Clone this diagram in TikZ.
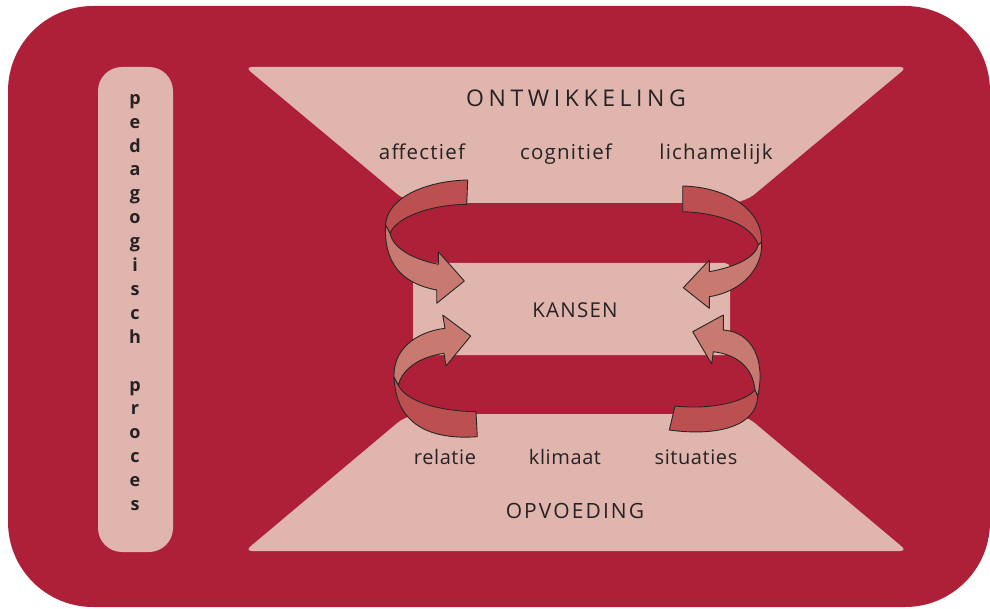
\documentclass[tikz,border=0pt]{standalone}
\usepackage{fontspec}
\setmainfont{Open Sans}
\definecolor{bgred}{HTML}{AE2038}
\definecolor{pinkf}{HTML}{E0B5AD}
\definecolor{arrdark}{HTML}{BC5050}
\definecolor{arrlight}{HTML}{C87A70}
\definecolor{txt}{HTML}{262224}
\begin{document}
\begin{tikzpicture}[x=1pt,y=-1pt,
  pinkshape/.style={fill=pinkf,draw=none},
  backband/.style={fill=arrdark,draw=black!85,line width=0.9pt,line join=round},
  frontband/.style={fill=arrlight,draw=black!85,line width=0.9pt,line join=round},
  lbl/.style={text=txt,inner sep=0pt,anchor=base,font=\fontsize{20.5}{24}\selectfont\addfontfeature{LetterSpace=6}},
  lblb/.style={text=txt,inner sep=0pt,anchor=base,font=\fontsize{20}{24}\selectfont\addfontfeature{LetterSpace=3}},
  captext/.style={text=txt,inner sep=0pt,anchor=base}]
\useasboundingbox (0,0) rectangle (990,609);
% background
\fill[bgred,rounded corners=85pt] (8,6) rectangle (990,607);
% left pill
\fill[pinkf,rounded corners=24pt] (98,67) rectangle (173,552);
% top trapezoid
\path[pinkshape] (576,67) [rounded corners=7pt] -- (907,67) [rounded corners=14pt] -- (744,203) -- (408,203) [rounded corners=7pt] -- (245,67) -- cycle;
% bottom trapezoid
\path[pinkshape] (576,551) [rounded corners=7pt] -- (245,551) [rounded corners=14pt] -- (408,414) -- (744,414) [rounded corners=7pt] -- (907,551) -- cycle;
% KANSEN box
\fill[pinkf,rounded corners=5pt] (413,263) rectangle (730,355);
% arrows: top left
\path[backband] (467.7,180) .. controls (425,181) and (387,198) .. (385.5,225) -- (390,233.3) .. controls (396,218) and (428,205) .. (466.7,204.3) -- cycle;
\path[frontband] (385.5,225) .. controls (384,262) and (400,283) .. (436.7,290) -- (436.7,303.3) -- (464.3,281) -- (438.3,251.7) -- (438.3,264.3) .. controls (412,259) and (393,248) .. (390,233.3) -- cycle;
% top right
\path[backband] (682.7,186) .. controls (725,187) and (762,208) .. (761.7,242) -- (758.3,245) .. controls (752,225) and (720,213) .. (682.7,211.7) -- cycle;
\path[frontband] (761.7,242) .. controls (763,270) and (740,292) .. (709.3,296.7) -- (709.3,308.3) -- (683.3,287.7) -- (709.3,260) -- (709.3,271.7) .. controls (735,267) and (755,258) .. (758.3,245) -- cycle;
% bottom left
\path[backband] (477.3,436.7) .. controls (430,440) and (396,425) .. (394,377) -- (398.3,385) .. controls (405,400) and (435,411) .. (476,411.7) -- cycle;
\path[frontband] (394,377) .. controls (393,350) and (415,332) .. (445,328.3) -- (442.7,315) -- (470.7,336) -- (446,366) -- (444,353.3) .. controls (420,357) and (403,368) .. (398.3,385) -- cycle;
% bottom right
\path[backband] (669.3,430) .. controls (720,437) and (757,425) .. (757.7,396) -- (755,390) .. controls (745,402) and (710,410) .. (675,406) -- cycle;
\path[frontband] (757.7,396) .. controls (766,360) and (752,332) .. (723.3,330) -- (723.3,315) -- (692.7,331.7) -- (711.7,364) -- (713.3,351.7) .. controls (740,355) and (753,370) .. (755,390) -- cycle;
% texts
\node[captext,font=\fontsize{23}{26}\selectfont\addfontfeature{LetterSpace=20}] (ontw) at (576,107) {ONTWIKKELING};
\node[lbl] (aff) at (422,159.5) {affectief};
\node[lbl] (cog) at (566,159.5) {cognitief};
\node[lbl] (lich) at (716,159.5) {lichamelijk};
\node[captext,font=\fontsize{20.5}{24}\selectfont\addfontfeature{LetterSpace=6}] (kansen) at (575,317.3) {KANSEN};
\node[lblb] (rel) at (445,464) {relatie};
\node[lblb] (klim) at (565,464) {klimaat};
\node[lblb] (sit) at (696,464) {situaties};
\node[captext,font=\fontsize{21}{24}\selectfont\addfontfeature{LetterSpace=10}] (opv) at (575,518) {OPVOEDING};
\node[text=txt,inner sep=0pt,align=center,font=\bfseries\fontsize{18}{23.9}\selectfont] (ped) at (135,302.5) {p\\e\\d\\a\\g\\o\\g\\i\\s\\c\\h\\~\\p\\r\\o\\c\\e\\s};
\end{tikzpicture}
\end{document}
